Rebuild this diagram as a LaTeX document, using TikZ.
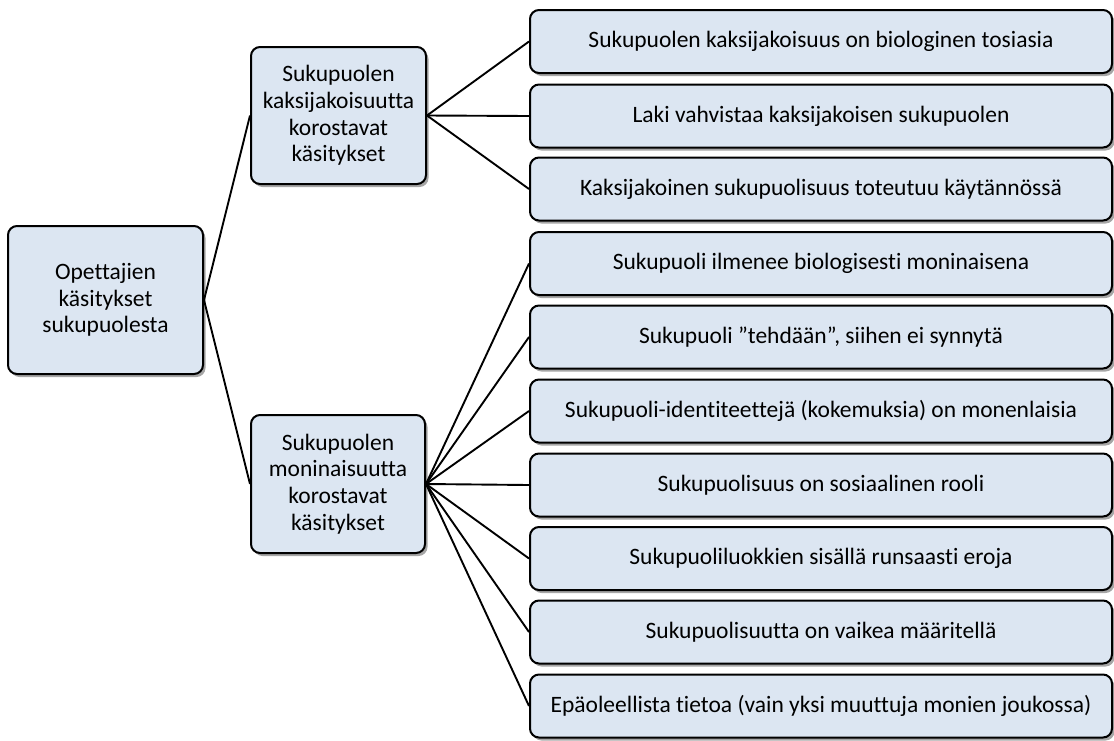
\documentclass[tikz,border=0pt]{standalone}
\usepackage{fontspec}
\setmainfont[Ligatures=NoCommon]{Carlito}
\usetikzlibrary{shadows}
\definecolor{boxfill}{HTML}{DCE6F2}
\tikzset{
  box/.style={draw=black, line width=2pt, fill=boxfill, rounded corners=9pt,
    inner sep=0pt, align=center, font=\fontsize{23.5}{26.7}\selectfont,
    drop shadow={shadow xshift=2.5pt, shadow yshift=-3pt, fill=black, opacity=0.35}},
  leaf/.style={box, minimum width=582pt, minimum height=63pt},
  link/.style={line width=1.9pt, black}
}
\begin{document}
\begin{tikzpicture}[x=1pt, y=-1pt]
\useasboundingbox (0,0) rectangle (1114,740);
\node[box, minimum width=195pt, minimum height=148pt] (root) at (105.5,300) {Opettajien\\käsitykset\\sukupuolesta};
\node[box, minimum width=175pt, minimum height=137pt] (bin) at (338.5,115.5) {Sukupuolen\\kaksijakoisuutta\\korostavat\\käsitykset};
\node[box, minimum width=174pt, minimum height=138pt] (div) at (338,484) {Sukupuolen\\moninaisuutta\\korostavat\\käsitykset};
\node[leaf] (r1) at (821,41.5) {Sukupuolen kaksijakoisuus on biologinen tosiasia};
\node[leaf] (r2) at (821,116) {Laki vahvistaa kaksijakoisen sukupuolen};
\node[leaf] (r3) at (821,189) {Kaksijakoinen sukupuolisuus toteutuu käytännössä};
\node[leaf] (r4) at (821,263.5) {Sukupuoli ilmenee biologisesti moninaisena};
\node[leaf] (r5) at (821,337) {Sukupuoli ”tehdään”, siihen ei synnytä};
\node[leaf] (r6) at (821,411) {Sukupuoli-identiteettejä (kokemuksia) on monenlaisia};
\node[leaf] (r7) at (821,485) {Sukupuolisuus on sosiaalinen rooli};
\node[leaf] (r8) at (821,558.5) {Sukupuoliluokkien sisällä runsaasti eroja};
\node[leaf] (r9) at (821,632) {Sukupuolisuutta on vaikea määritellä};
\node[leaf] (r10) at (821,706) {Epäoleellista tietoa (vain yksi muuttuja monien joukossa)};
\draw[link] (root.east) -- (bin.west);
\draw[link] (root.east) -- (div.west);
\foreach \r in {r1,r2,r3} \draw[link] (bin.east) -- (\r.west);
\foreach \r in {r4,r5,r6,r7,r8,r9,r10} \draw[link] (div.east) -- (\r.west);
\end{tikzpicture}
\end{document}
